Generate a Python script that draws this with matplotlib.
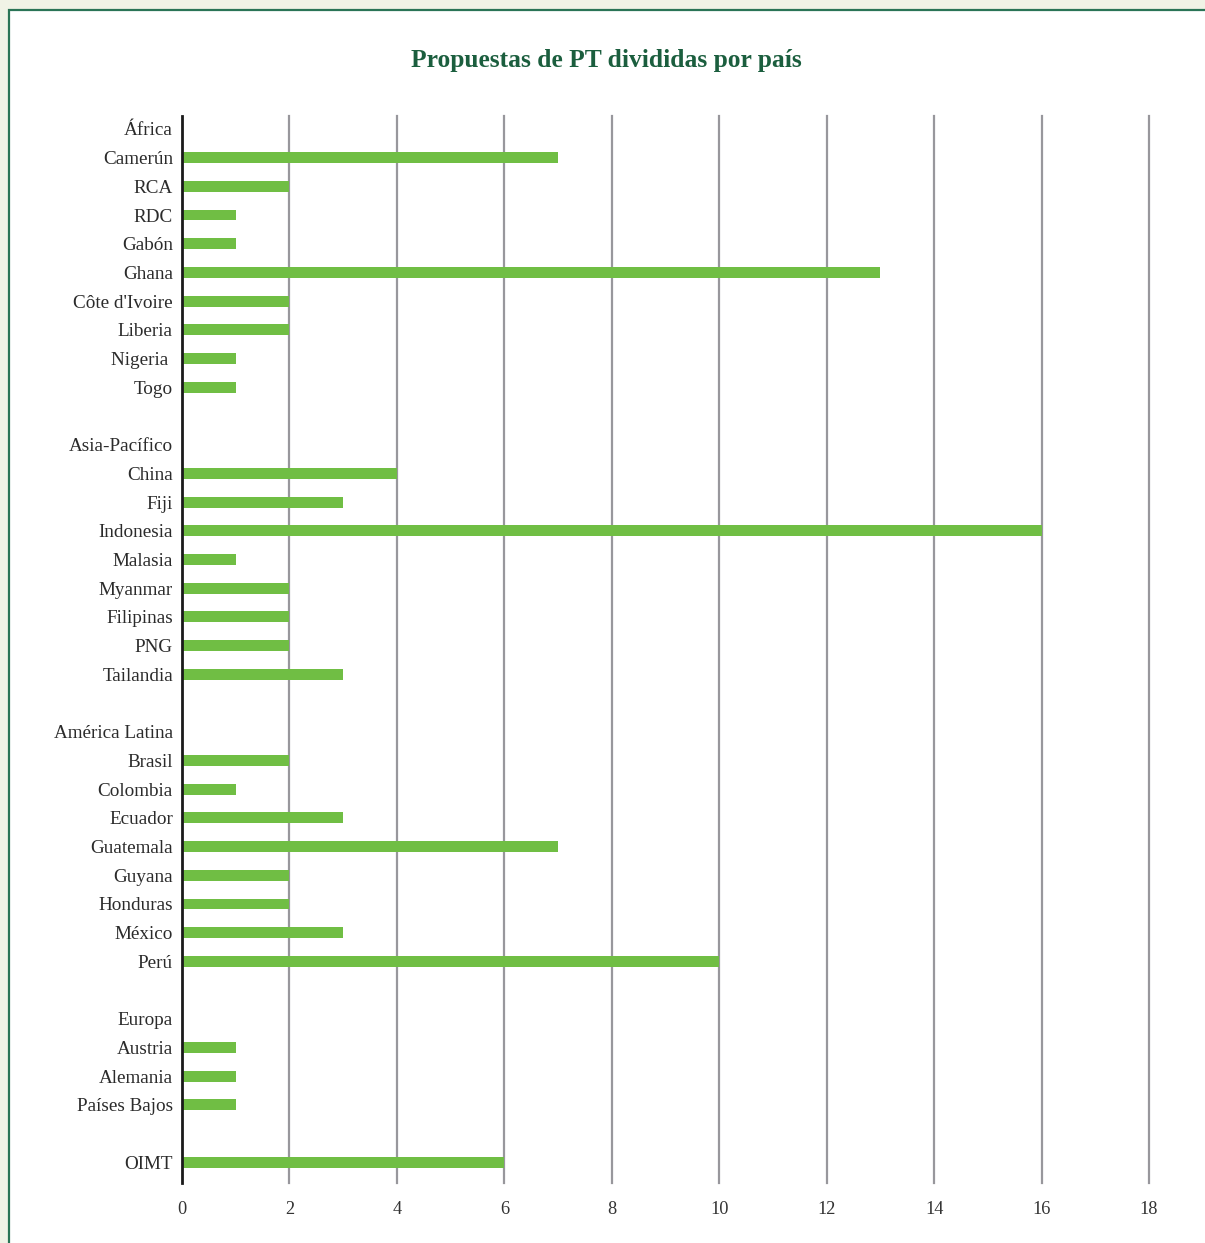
import matplotlib
matplotlib.use("Agg")
import matplotlib.pyplot as plt
from matplotlib.patches import Rectangle

# ---- data ----
row_labels = ["África", "Camerún", "RCA", "RDC", "Gabón", "Ghana", "Côte d'Ivoire", "Liberia", "Nigeria ", "Togo",
              "",
              "Asia-Pacífico", "China", "Fiji", "Indonesia", "Malasia", "Myanmar", "Filipinas", "PNG", "Tailandia",
              "",
              "América Latina", "Brasil", "Colombia", "Ecuador", "Guatemala", "Guyana", "Honduras", "México", "Perú",
              "",
              "Europa", "Austria", "Alemania", "Países Bajos",
              "",
              "OIMT"]
row_values = [None, 7, 2, 1, 1, 13, 2, 2, 1, 1,
              None,
              None, 4, 3, 16, 1, 2, 2, 2, 3,
              None,
              None, 2, 1, 3, 7, 2, 2, 3, 10,
              None,
              None, 1, 1, 1,
              None,
              6]
x_ticks = [0, 2, 4, 6, 8, 10, 12, 14, 16, 18]
title = "Propuestas de PT divididas por país"

W, H = 1205, 1243
fig = plt.figure(figsize=(W / 100, H / 100), dpi=100)
fig.patch.set_facecolor("#F0F3E6")
# white panel with green border
fig.patches.append(Rectangle((9 / W, -0.1), 1.2, 1 - 10 / H + 0.1, transform=fig.transFigure,
                             facecolor="white", edgecolor="#2A7456", linewidth=1.6, zorder=-10))

serif = ["Liberation Serif", "DejaVu Serif"]

left, right = 182 / W, 1149 / W
top, bottom = 1 - 116 / H, 1 - 1183 / H
ax = fig.add_axes([left, bottom, right - left, top - bottom])
ax.set_facecolor("none")
ax.set_zorder(5)

ys = list(range(len(row_labels)))
bar_y = [y for y, v in zip(ys, row_values) if v is not None]
bar_v = [v for v in row_values if v is not None]
ax.barh(bar_y, bar_v, height=0.38, color="#70BE44", zorder=3)

ax.set_xlim(0, 18)
ax.set_ylim(36.72, -0.45)
ax.set_xticks(x_ticks)
ax.set_xticklabels([str(t) for t in x_ticks], fontfamily=serif, fontsize=13.2, color="#333333")
ax.set_yticks(ys)
ax.set_yticklabels(row_labels, fontfamily=serif, fontsize=13.8, color="#2b2b2b")
ax.tick_params(axis="both", length=0)
ax.tick_params(axis="x", pad=13)
ax.tick_params(axis="y", pad=6.5)

for t in x_ticks[1:]:
    ax.axvline(t, color="#98979c", linewidth=1.6, zorder=1, clip_on=False)

for s in ["top", "right", "bottom"]:
    ax.spines[s].set_visible(False)
ax.spines["left"].set_color("#1a1a1a")
ax.spines["left"].set_linewidth(2)
ax.spines["left"].set_zorder(4)

fig.text(606 / W, 1 - 60 / H, title, ha="center", va="center", fontfamily=serif,
         fontsize=18.4, fontweight="bold", color="#1B5E3E")

fig.savefig("out.png", dpi=100, facecolor=fig.get_facecolor())
